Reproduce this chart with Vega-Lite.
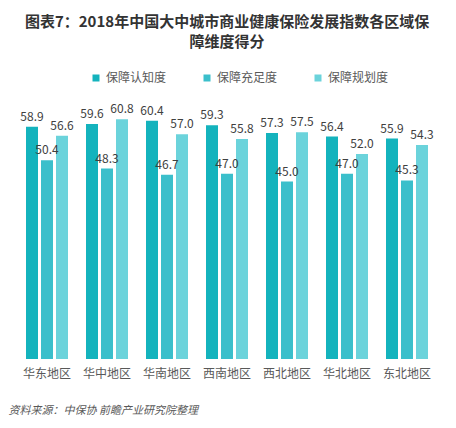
{
  "$schema": "https://vega.github.io/schema/vega-lite/v6.json",
  "autosize": "none",
  "width": 420,
  "height": 276,
  "padding": {"left": 17, "top": 83, "right": 19, "bottom": 69},
  "background": "white",
  "config": {
    "font": "Noto Sans CJK SC",
    "view": {"stroke": null}
  },
  "title": {
    "text": ["图表7：2018年中国大中城市商业健康保险发展指数各区域保", "障维度得分"],
    "font": "Noto Sans CJK SC",
    "fontSize": 15,
    "fontWeight": "bold",
    "color": "#333333",
    "anchor": "middle",
    "lineHeight": 20,
    "offset": 22
  },
  "data": {
    "values": [
      {"region": "华东地区", "series": "保障认知度", "value": 58.9},
      {"region": "华东地区", "series": "保障充足度", "value": 50.4},
      {"region": "华东地区", "series": "保障规划度", "value": 56.6},
      {"region": "华中地区", "series": "保障认知度", "value": 59.6},
      {"region": "华中地区", "series": "保障充足度", "value": 48.3},
      {"region": "华中地区", "series": "保障规划度", "value": 60.8},
      {"region": "华南地区", "series": "保障认知度", "value": 60.4},
      {"region": "华南地区", "series": "保障充足度", "value": 46.7},
      {"region": "华南地区", "series": "保障规划度", "value": 57.0},
      {"region": "西南地区", "series": "保障认知度", "value": 59.3},
      {"region": "西南地区", "series": "保障充足度", "value": 47.0},
      {"region": "西南地区", "series": "保障规划度", "value": 55.8},
      {"region": "西北地区", "series": "保障认知度", "value": 57.3},
      {"region": "西北地区", "series": "保障充足度", "value": 45.0},
      {"region": "西北地区", "series": "保障规划度", "value": 57.5},
      {"region": "华北地区", "series": "保障认知度", "value": 56.4},
      {"region": "华北地区", "series": "保障充足度", "value": 47.0},
      {"region": "华北地区", "series": "保障规划度", "value": 52.0},
      {"region": "东北地区", "series": "保障认知度", "value": 55.9},
      {"region": "东北地区", "series": "保障充足度", "value": 45.3},
      {"region": "东北地区", "series": "保障规划度", "value": 54.3}
    ]
  },
  "encoding": {
    "x": {
      "field": "region",
      "type": "nominal",
      "sort": null,
      "scale": {"paddingInner": 0.3, "paddingOuter": 0.15},
      "axis": {
        "title": "资料来源：中保协 前瞻产业研究院整理",
        "titleFont": "Noto Sans CJK SC",
        "titleFontSize": 11,
        "titleFontWeight": "normal",
        "titleFontStyle": "italic",
        "titleColor": "#595959",
        "titleAnchor": "start",
        "titleAlign": "left",
        "titleBaseline": "middle",
        "titleX": -9,
        "titleY": 51,
        "labelAngle": 0,
        "ticks": false,
        "domain": false,
        "labelFontSize": 12,
        "labelColor": "#595959",
        "labelPadding": 9,
        "labelFont": "Noto Sans CJK SC"
      }
    },
    "xOffset": {
      "field": "series",
      "type": "nominal",
      "sort": ["保障认知度", "保障充足度", "保障规划度"],
      "scale": {"paddingInner": 0.2, "paddingOuter": 0}
    },
    "y": {
      "field": "value",
      "type": "quantitative",
      "scale": {"domain": [0, 70]},
      "axis": null
    }
  },
  "layer": [
    {
      "mark": {"type": "bar"},
      "encoding": {
        "color": {
          "field": "series",
          "type": "nominal",
          "sort": ["保障认知度", "保障充足度", "保障规划度"],
          "scale": {
            "domain": ["保障认知度", "保障充足度", "保障规划度"],
            "range": ["#14B3BD", "#3BBFCB", "#6BD3DB"]
          },
          "legend": {
            "title": null,
            "orient": "none",
            "direction": "horizontal",
            "legendX": 73,
            "legendY": -11,
            "symbolType": "square",
            "symbolSize": 49,
            "symbolStrokeWidth": 0,
            "labelFontSize": 12,
            "labelColor": "#595959",
            "labelFont": "Noto Sans CJK SC",
            "labelOffset": 4,
            "columnPadding": 34
          }
        }
      }
    },
    {
      "mark": {
        "type": "text",
        "dy": -10,
        "fontSize": 12,
        "color": "#404040",
        "font": "Noto Sans CJK SC"
      },
      "encoding": {
        "text": {"field": "value", "type": "quantitative", "format": ".1f"}
      }
    }
  ]
}
